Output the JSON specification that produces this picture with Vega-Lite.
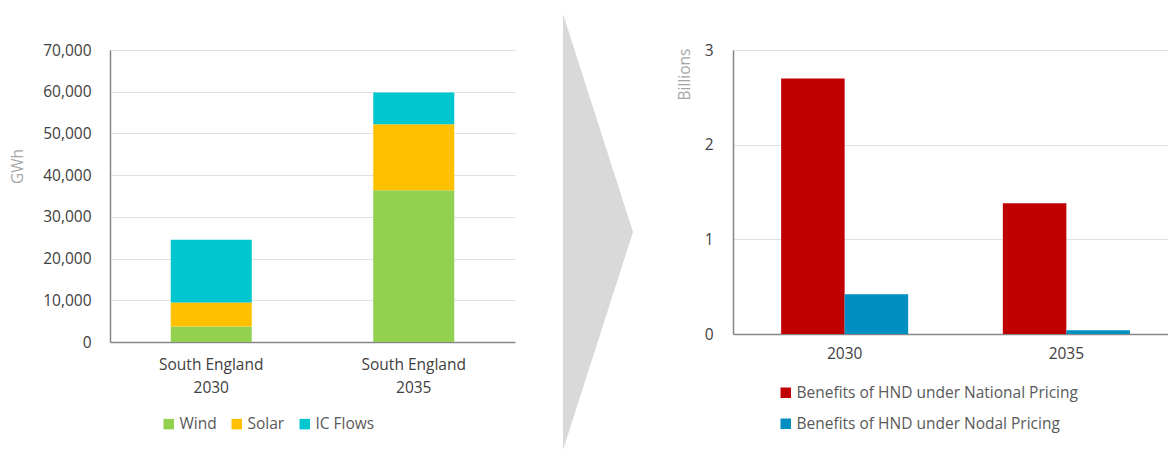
{
  "$schema": "https://vega.github.io/schema/vega-lite/v6.json",
  "background": "white",
  "padding": {"left": 10, "top": 14, "right": 0, "bottom": 0},
  "bounds": "flush",
  "spacing": 0,
  "resolve": {"scale": {"color": "independent"}, "legend": {"color": "independent"}},
  "config": {
    "view": {"stroke": null},
    "font": "Open Sans",
    "axis": {
      "gridColor": "#e0e0e0",
      "gridWidth": 1,
      "domainColor": "#868686",
      "domainWidth": 1.5,
      "ticks": false,
      "labelColor": "#404040",
      "labelFontSize": 15.5,
      "titleColor": "#a6a6a6",
      "titleFontWeight": "normal",
      "titleFontSize": 15.5
    },
    "legend": {
      "labelColor": "#595959",
      "labelFontSize": 15.5,
      "labelLimit": 500,
      "symbolType": "square",
      "symbolStrokeWidth": 0,
      "symbolSize": 110,
      "labelOffset": 3
    }
  },
  "datasets": {
    "gen": [
      {"region": "South England 2030", "source": "Wind", "gwh": 3700},
      {"region": "South England 2030", "source": "Solar", "gwh": 5750},
      {"region": "South England 2030", "source": "IC Flows", "gwh": 15050},
      {"region": "South England 2035", "source": "Wind", "gwh": 36400},
      {"region": "South England 2035", "source": "Solar", "gwh": 15800},
      {"region": "South England 2035", "source": "IC Flows", "gwh": 7600}
    ],
    "arrow": [
      {"ax": 0, "lo": -1, "hi": 1},
      {"ax": 1, "lo": 0, "hi": 0}
    ],
    "ben": [
      {"year": "2030", "scheme": "Benefits of HND under National Pricing", "billions": 2.7},
      {"year": "2030", "scheme": "Benefits of HND under Nodal Pricing", "billions": 0.42},
      {"year": "2035", "scheme": "Benefits of HND under National Pricing", "billions": 1.38},
      {"year": "2035", "scheme": "Benefits of HND under Nodal Pricing", "billions": 0.04}
    ]
  },
  "hconcat": [
    {
      "width": 405,
      "height": 292,
      "data": {"name": "gen"},
      "mark": {"type": "bar"},
      "encoding": {
        "x": {
          "field": "region",
          "type": "nominal",
          "scale": {"paddingInner": 0.6, "paddingOuter": 0.3},
          "axis": {
            "title": null,
            "labelAngle": 0,
            "labelExpr": "[slice(datum.label, 0, 13), slice(datum.label, 14)]",
            "labelLineHeight": 23,
            "labelPadding": 15,
            "grid": false
          }
        },
        "y": {
          "field": "gwh",
          "type": "quantitative",
          "stack": "zero",
          "scale": {"domain": [0, 70000], "nice": false},
          "axis": {
            "values": [0, 10000, 20000, 30000, 40000, 50000, 60000, 70000],
            "format": ",.0f",
            "labelPadding": 19,
            "title": "GWh",
            "titleAngle": -90,
            "titleX": -93,
            "titleY": 116,
            "titleAlign": "center",
            "titleBaseline": "middle"
          }
        },
        "color": {
          "field": "source",
          "type": "nominal",
          "sort": ["Wind", "Solar", "IC Flows"],
          "scale": {"domain": ["Wind", "Solar", "IC Flows"], "range": ["#92d050", "#ffc000", "#00c6cf"]},
          "legend": {
            "title": null,
            "orient": "none",
            "direction": "horizontal",
            "legendX": 51,
            "legendY": 366,
            "columnPadding": 12
          }
        }
      }
    },
    {
      "width": 218,
      "height": 292,
      "data": {"name": "arrow"},
      "mark": {"type": "area", "color": "#d9d9d9", "clip": false},
      "encoding": {
        "x": {"field": "ax", "type": "quantitative", "scale": {"domain": [-0.686, 2.429], "nice": false, "zero": false}, "axis": null},
        "y": {"field": "lo", "type": "quantitative", "scale": {"domain": [-0.5046, 0.8349], "nice": false, "zero": false}, "axis": null},
        "y2": {"field": "hi"}
      }
    },
    {
      "width": 435,
      "height": 284,
      "data": {"name": "ben"},
      "mark": {"type": "bar"},
      "encoding": {
        "x": {
          "field": "year",
          "type": "nominal",
          "scale": {"paddingInner": 0.427, "paddingOuter": 0.1945, "align": 0.558},
          "axis": {"title": null, "labelAngle": 0, "labelPadding": 12, "grid": false}
        },
        "xOffset": {
          "field": "scheme",
          "type": "nominal",
          "sort": ["Benefits of HND under National Pricing", "Benefits of HND under Nodal Pricing"],
          "scale": {"paddingInner": 0, "paddingOuter": 0}
        },
        "y": {
          "field": "billions",
          "type": "quantitative",
          "scale": {"domain": [0, 3], "nice": false},
          "axis": {
            "values": [0, 1, 2, 3],
            "labelPadding": 20,
            "title": "Billions",
            "titleAngle": -90,
            "titleX": -49,
            "titleY": 24,
            "titleAlign": "center",
            "titleBaseline": "middle"
          }
        },
        "color": {
          "field": "scheme",
          "type": "nominal",
          "sort": ["Benefits of HND under National Pricing", "Benefits of HND under Nodal Pricing"],
          "scale": {"domain": ["Benefits of HND under National Pricing", "Benefits of HND under Nodal Pricing"], "range": ["#c00000", "#008fc0"]},
          "legend": {
            "title": null,
            "orient": "none",
            "direction": "vertical",
            "legendX": 45,
            "legendY": 335,
            "rowPadding": 14
          }
        }
      }
    }
  ]
}
